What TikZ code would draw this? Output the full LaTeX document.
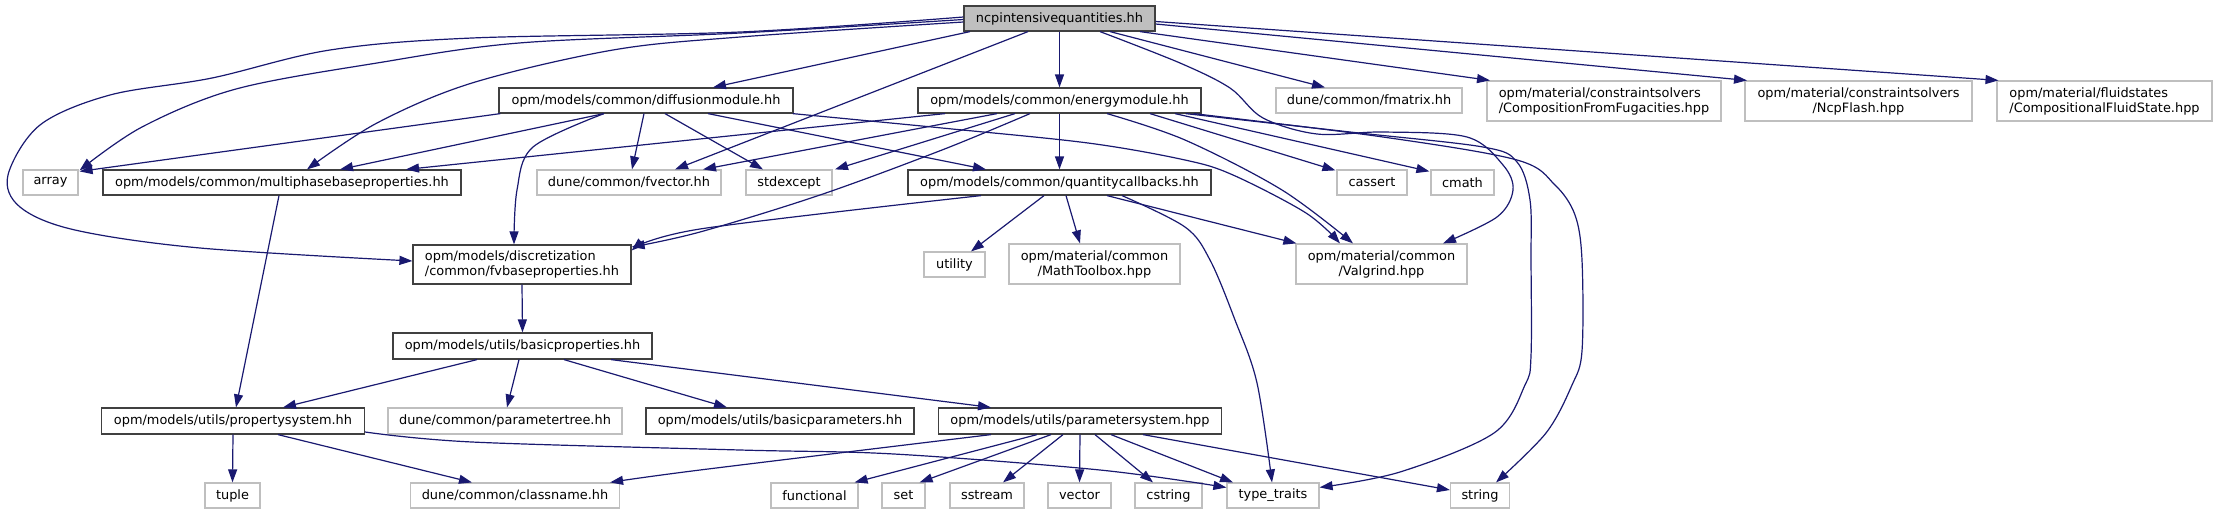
\documentclass[tikz,border=0pt]{standalone}
\usepackage{fontspec}
\setmainfont{DejaVu Sans}
\usetikzlibrary{arrows.meta,calc}
\definecolor{edgec}{HTML}{191970}
\definecolor{gborder}{HTML}{BFBFBF}
\definecolor{bborder}{HTML}{404040}
\definecolor{topfill}{HTML}{BFBFBF}
\begin{document}
\begin{tikzpicture}[x=1pt,y=-1pt,
  base/.style={rectangle, inner sep=0pt, line width=1.2pt, font=\fontsize{12.9}{15}\selectfont, text=black, fill=white},
  doc/.style={base, draw=bborder},
  ext/.style={base, draw=gborder},
  conn/.style={draw=edgec, line width=1.2pt, -{Triangle[length=13pt,width=9pt]}},
  cv/.style={smooth, tension=0.55}]
\useasboundingbox (0,0) rectangle (2217,515);
% row 0
\node[doc, fill=topfill, minimum width=191pt, minimum height=25pt] (ncp) at (1059.5,18.5) {ncpintensivequantities.hh};
% row 1
\node[doc, minimum width=294pt, minimum height=25pt] (diff) at (646,100.5) {opm/models/common/diffusionmodule.hh};
\node[doc, minimum width=283pt, minimum height=25pt] (energy) at (1059.5,100.5) {opm/models/common/energymodule.hh};
\node[ext, minimum width=186pt, minimum height=25pt] (fmatrix) at (1369,100.5) {dune/common/fmatrix.hh};
\node[ext, minimum width=234pt, minimum height=40pt, align=left] (compfug) at (1604,101) {opm/material/constraintsolvers\\/CompositionFromFugacities.hpp};
\node[ext, minimum width=227pt, minimum height=40pt, align=center] (ncpflash) at (1858.5,101) {opm/material/constraintsolvers\\/NcpFlash.hpp};
\node[ext, minimum width=215pt, minimum height=40pt, align=left] (fluid) at (2104.5,101) {opm/material/fluidstates\\/CompositionalFluidState.hpp};
% row 2
\node[ext, minimum width=55pt, minimum height=25pt] (array) at (50.5,182.5) {array};
\node[doc, minimum width=358pt, minimum height=25pt] (multi) at (282,182.5) {opm/models/common/multiphasebaseproperties.hh};
\node[ext, minimum width=184pt, minimum height=25pt] (fvector) at (629,182.5) {dune/common/fvector.hh};
\node[ext, minimum width=86pt, minimum height=25pt] (stdexcept) at (789,182.5) {stdexcept};
\node[doc, minimum width=303pt, minimum height=25pt] (qcb) at (1059.5,182.5) {opm/models/common/quantitycallbacks.hh};
\node[ext, minimum width=70pt, minimum height=25pt] (cassert) at (1372,182.5) {cassert};
\node[ext, minimum width=63pt, minimum height=25pt] (cmath) at (1462.5,182.5) {cmath};
% row 3
\node[doc, minimum width=218pt, minimum height=39pt, align=left] (fvbase) at (522,264.5) {opm/models/discretization\\/common/fvbaseproperties.hh};
\node[ext, minimum width=61pt, minimum height=25pt] (utility) at (954.5,264.5) {utility};
\node[ext, minimum width=171pt, minimum height=40pt, align=center] (mathtb) at (1094.5,264) {opm/material/common\\/MathToolbox.hpp};
\node[ext, minimum width=171pt, minimum height=40pt, align=center] (valgrind) at (1381.5,264) {opm/material/common\\/Valgrind.hpp};
% row 4
\node[doc, minimum width=259pt, minimum height=26pt] (basicprop) at (522.5,346) {opm/models/utils/basicproperties.hh};
% row 5
\node[doc, minimum width=263pt, minimum height=26pt] (propsys) at (233,421) {opm/models/utils/propertysystem.hh};
\node[ext, minimum width=234pt, minimum height=26pt] (paramtree) at (505,421) {dune/common/parametertree.hh};
\node[doc, minimum width=268pt, minimum height=26pt] (basicparam) at (780,421) {opm/models/utils/basicparameters.hh};
\node[doc, minimum width=283pt, minimum height=26pt] (paramsys) at (1080,421) {opm/models/utils/parametersystem.hpp};
% row 6
\node[ext, minimum width=55pt, minimum height=25pt] (tuple) at (232.5,495.5) {tuple};
\node[ext, minimum width=209pt, minimum height=25pt] (classname) at (515,495.5) {dune/common/classname.hh};
\node[ext, minimum width=87pt, minimum height=25pt] (functional) at (814.5,495.5) {functional};
\node[ext, minimum width=43pt, minimum height=25pt] (set) at (903.5,495.5) {set};
\node[ext, minimum width=74pt, minimum height=25pt] (sstream) at (987,495.5) {sstream};
\node[ext, minimum width=63pt, minimum height=25pt] (vector) at (1079.5,495.5) {vector};
\node[ext, minimum width=67pt, minimum height=25pt] (cstring) at (1168.5,495.5) {cstring};
\node[ext, minimum width=92pt, minimum height=25pt] (typetraits) at (1273,495.5) {type\_traits};
\node[ext, minimum width=59pt, minimum height=25pt] (string) at (1480,495.5) {string};

% edges from ncp
\draw[conn] ($(ncp.south)+(-89.5,0)$) -- ($(diff.north)+(67,0)$);
\draw[conn] ($(ncp.south)+(-31.5,0)$) -- ($(fvector.north)+(46,0)$);
\draw[conn] (ncp.south) -- (energy.north);
\draw[conn] ($(ncp.south)+(50.5,0)$) -- ($(fmatrix.north)+(-44,0)$);
\draw[conn] ($(ncp.south)+(80.5,0)$) -- ($(compfug.north)+(-114,0)$);
\draw[conn] ($(ncp.east)+(0,5.5)$) -- ($(ncpflash.north)+(-111.5,0)$);
\draw[conn] ($(ncp.east)+(0,3)$) -- ($(fluid.north)+(-106,0)$);
\draw[conn] plot[cv] coordinates {($(ncp.south)+(40.5,0)$) (1180,63) (1230,88) (1263,118) (1317,134) (1383,132) (1467,137) (1503,165) (1513,190) (1497,217) ($(valgrind.north)+(61.5,0)$)};
\draw[conn] plot[cv] coordinates {($(ncp.west)+(0,1)$) (740,33) (519,43) (377,63) (236,89) (142,127) ($(array.north east)+(1,1)$)};
\draw[conn] plot[cv] coordinates {($(ncp.west)+(0,3.5)$) (740,37) (613,50) (472,83) (377,123) ($(multi.north)+(25,0)$)};
\draw[conn] plot[cv] coordinates {($(ncp.west)+(0,-1.5)$) (740,32) (472,38) (330,50) (212,78) (110,95) (40,125) (8,175) (20,207) (75,230) (200,248) ($(fvbase.west)+(0,-3.5)$)};
% edges from diffusionmodule
\draw[conn] ($(diff.south west)+(2,0)$) -- ($(array.north east)+(1,2)$);
\draw[conn] ($(diff.south)+(-42,0)$) -- ($(multi.north)+(58,0)$);
\draw[conn] plot[cv] coordinates {($(diff.south)+(-42,0)$) (533,147) (517,190) ($(fvbase.north)+(-8,0)$)};
\draw[conn] ($(diff.south)+(-2,0)$) -- ($(fvector.north)+(3,0)$);
\draw[conn] ($(diff.south)+(19,0)$) -- ($(stdexcept.north)+(-26,0)$);
\draw[conn] ($(diff.south)+(62,0)$) -- ($(qcb.north)+(-73.5,0)$);
\draw[conn] plot[cv] coordinates {($(diff.south east)+(-1,0)$) (942,128) (1088,143) (1185,160) (1233,175) (1306,213) ($(valgrind.north)+(-41.5,0)$)};
% edges from energymodule
\draw[conn] ($(energy.south)+(-114.5,0)$) -- ($(multi.north)+(124,0)$);
\draw[conn] ($(energy.south)+(-62.5,0)$) -- ($(fvector.north)+(74,0)$);
\draw[conn] ($(energy.south)+(-44.5,0)$) -- ($(stdexcept.north)+(46,0)$);
\draw[conn] plot[cv] coordinates {($(energy.south)+(-29.5,0)$) (942,150) (820,195) (700,232) ($(fvbase.east)+(0,-17.5)$)};
\draw[conn] (energy.south) -- (qcb.north);
\draw[conn] ($(energy.south)+(90.5,0)$) -- ($(cassert.north west)+(-1,1)$);
\draw[conn] ($(energy.south)+(115.5,0)$) -- ($(cmath.north west)+(-1,2)$);
\draw[conn] plot[cv] coordinates {($(energy.south)+(47.5,0)$) (1185,140) (1282,190) ($(valgrind.north)+(-28.5,0)$)};
\draw[conn] plot[cv] coordinates {($(energy.south east)+(-16,0)$) (1350,132) (1483,147) (1517,162) (1530,200) (1531,260) (1531,356) (1525,385) (1494,433) (1400,472) ($(typetraits.north east)+(0,5)$)};
\draw[conn] plot[cv] coordinates {($(energy.south east)+(-8,0)$) (1383,137) (1517,160) (1555,185) (1575,215) (1582,260) (1582,351) (1572,385) (1546,433) ($(string.north)+(16,0)$)};
% edges from quantitycallbacks
\draw[conn] plot[cv] coordinates {($(qcb.south)+(-78.5,0)$) (700,229) ($(fvbase.east)+(0,-14)$)};
\draw[conn] ($(qcb.south)+(-15.5,0)$) -- ($(utility.north)+(16.5,0)$);
\draw[conn] ($(qcb.south)+(6.5,0)$) -- ($(mathtb.north)+(-14.5,0)$);
\draw[conn] ($(qcb.south)+(47.5,0)$) -- ($(valgrind.north west)+(1,0)$);
\draw[conn] plot[cv] coordinates {($(qcb.south)+(62.5,0)$) (1185,227) (1210,260) (1235,320) (1257,383) ($(typetraits.north)+(-1,0)$)};
% fvbase, basicproperties
\draw[conn] (fvbase.south) -- (basicprop.north);
\draw[conn] ($(basicprop.south)+(-45.5,0)$) -- ($(propsys.north)+(50,0)$);
\draw[conn] ($(basicprop.south)+(-3.5,0)$) -- ($(paramtree.north)+(2,0)$);
\draw[conn] ($(basicprop.south)+(41.5,0)$) -- ($(basicparam.north)+(-53,0)$);
\draw[conn] ($(basicprop.south)+(88.5,0)$) -- ($(paramsys.north)+(-89,0)$);
\draw[conn] ($(multi.south)+(-3,0)$) -- ($(propsys.north)+(3,0)$);
% propertysystem
\draw[conn] (propsys.south) -- (tuple.north);
\draw[conn] ($(propsys.south)+(45,0)$) -- ($(classname.north)+(-43,0)$);
\draw[conn] plot[cv] coordinates {($(propsys.east)+(0,11)$) (472,442) (740,450) (894,454) (1100,470) ($(typetraits.west)+(0,-8)$)};
% parametersystem
\draw[conn] plot[cv] coordinates {($(paramsys.south)+(-89,0)$) (700,470) ($(classname.north east)+(-10,0)$)};
\draw[conn] ($(paramsys.south)+(-43,0)$) -- ($(functional.north east)+(-4,0)$);
\draw[conn] ($(paramsys.south)+(-29,0)$) -- ($(set.north east)+(-6,0)$);
\draw[conn] ($(paramsys.south)+(-17,0)$) -- ($(sstream.north)+(16,0)$);
\draw[conn] (paramsys.south) -- (vector.north);
\draw[conn] ($(paramsys.south)+(15,0)$) -- ($(cstring.north)+(-15.5,0)$);
\draw[conn] ($(paramsys.south)+(31,0)$) -- ($(typetraits.north)+(-40,0)$);
\draw[conn] ($(paramsys.south)+(63,0)$) -- ($(string.west)+(0,-5.5)$);
\end{tikzpicture}
\end{document}
